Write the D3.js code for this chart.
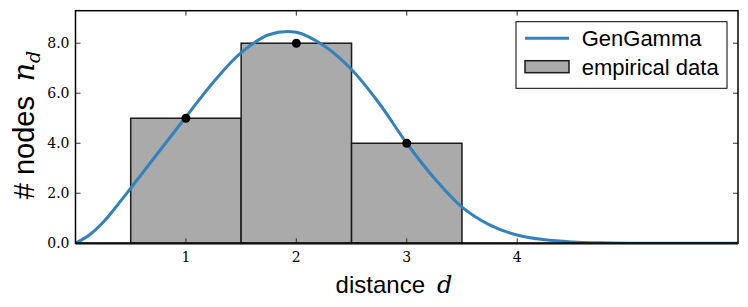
<!DOCTYPE html>
<html>
<head>
<meta charset="utf-8">
<script src="https://cdn.jsdelivr.net/npm/d3@7"></script>
<style>
  body { margin: 0; background: #fff; }
  .tick-label { font-family: "DejaVu Serif", serif; font-size: 14px; fill: #000; }
  .axis-title { font-family: "Liberation Sans", Arial, sans-serif; font-size: 24px; fill: #000; }
  .math { font-family: "DejaVu Serif", serif; font-style: italic; }
  .legend-text { font-family: "Liberation Sans", Arial, sans-serif; font-size: 22px; fill: #000; }
</style>
</head>
<body>
<svg id="chart" width="748" height="307"></svg>
<script>
// empirical histogram: distance d -> number of nodes
const distances = [1, 2, 3];
const nodeCounts = [5, 8, 4];

// GenGamma fit
const fitD = [0, 0.125, 0.25, 0.375, 0.5, 0.75, 1.0, 1.25, 1.5, 1.75, 2.0, 2.25, 2.5, 2.75, 3.0, 3.25, 3.5, 3.75, 4.0, 4.25, 4.5, 4.75, 5.0, 5.5, 6.0];
const fitN = [0, 0.33, 0.84, 1.5, 2.2, 3.63, 5.05, 6.45, 7.62, 8.34, 8.44, 7.9, 6.95, 5.6, 4.0, 2.6, 1.45, 0.74, 0.33, 0.14, 0.055, 0.02, 0.006, 0, 0];

const xTicks = [1, 2, 3, 4];
const yTicks = [0, 2, 4, 6, 8];
const legendItems = ['GenGamma', 'empirical data'];

const W = 748, H = 307;
const margin = {left: 75.5, right: 10, top: 10.7, bottom: 63.7};

const svg = d3.select('#chart');

const x = d3.scaleLinear().domain([0, 6]).range([margin.left, W - margin.right]);
const y = d3.scaleLinear().domain([0, 9.3]).range([H - margin.bottom, margin.top]);

const lineBlue = '#3182bd';

svg.append('defs').append('clipPath').attr('id', 'plotClip')
    .append('rect')
    .attr('x', x(0)).attr('y', y(9.3))
    .attr('width', x(6) - x(0)).attr('height', y(0) - y(9.3));

// histogram bars
svg.append('g')
    .selectAll('rect')
    .data(distances)
    .enter().append('rect')
    .attr('x', d => x(d - 0.5))
    .attr('y', (d, i) => y(nodeCounts[i]))
    .attr('width', d => x(d + 0.5) - x(d - 0.5))
    .attr('height', (d, i) => y(0) - y(nodeCounts[i]))
    .attr('fill', '#aaaaaa')
    .attr('stroke', '#1a1a1a')
    .attr('stroke-width', 1.5);

// fitted curve
const line = d3.line()
    .x((d, i) => x(fitD[i]))
    .y(d => y(d))
    .curve(d3.curveCatmullRom.alpha(0.5));

svg.append('path')
    .datum(fitN)
    .attr('clip-path', 'url(#plotClip)')
    .attr('d', line)
    .attr('fill', 'none')
    .attr('stroke', lineBlue)
    .attr('stroke-width', 3);

// data points
svg.append('g')
    .selectAll('circle')
    .data(distances)
    .enter().append('circle')
    .attr('cx', d => x(d))
    .attr('cy', (d, i) => y(nodeCounts[i]))
    .attr('r', 4.5)
    .attr('fill', '#000');

// ticks (inward, on all four sides)
const tickLen = 5;
const ticks = svg.append('g').attr('stroke', '#333').attr('stroke-width', 1);
xTicks.forEach(t => {
    ticks.append('line').attr('x1', x(t)).attr('x2', x(t)).attr('y1', y(0)).attr('y2', y(0) - tickLen);
    ticks.append('line').attr('x1', x(t)).attr('x2', x(t)).attr('y1', y(9.3)).attr('y2', y(9.3) + tickLen);
});
yTicks.forEach(t => {
    ticks.append('line').attr('x1', x(0)).attr('x2', x(0) + tickLen).attr('y1', y(t)).attr('y2', y(t));
    ticks.append('line').attr('x1', x(6)).attr('x2', x(6) - tickLen).attr('y1', y(t)).attr('y2', y(t));
});

// frame
svg.append('rect')
    .attr('x', x(0)).attr('y', y(9.3))
    .attr('width', x(6) - x(0)).attr('height', y(0) - y(9.3))
    .attr('fill', 'none')
    .attr('stroke', '#000')
    .attr('stroke-width', 1.5);
svg.append('line')
    .attr('x1', x(0)).attr('x2', x(6)).attr('y1', y(0)).attr('y2', y(0))
    .attr('stroke', '#111').attr('stroke-width', 2.2);

// tick labels
svg.append('g').selectAll('text')
    .data(xTicks)
    .enter().append('text')
    .attr('class', 'tick-label')
    .attr('x', d => x(d))
    .attr('y', y(0) + 19)
    .attr('text-anchor', 'middle')
    .text(d => d);

svg.append('g').selectAll('text')
    .data(yTicks)
    .enter().append('text')
    .attr('class', 'tick-label')
    .attr('x', x(0) - 6)
    .attr('y', d => y(d))
    .attr('dy', '0.36em')
    .attr('text-anchor', 'end')
    .text(d => d.toFixed(1));

// axis titles
const xTitle = svg.append('text')
    .attr('class', 'axis-title')
    .attr('x', 394)
    .attr('y', 293)
    .attr('text-anchor', 'middle');
xTitle.append('tspan').text('distance\u2002');
xTitle.append('tspan').attr('class', 'math').text('d');

const yTitle = svg.append('text')
    .attr('class', 'axis-title')
    .style('font-size', '29px')
    .attr('transform', `translate(34,${(y(0) + y(9.3)) / 2 - 2}) rotate(-90)`)
    .attr('text-anchor', 'middle');
yTitle.append('tspan').text('# nodes\u2002');
yTitle.append('tspan').attr('class', 'math').text('n');
yTitle.append('tspan').attr('class', 'math').style('font-size', '19px').attr('dy', 6).text('d');

// legend
const lg = svg.append('g').attr('transform', 'translate(516,21.7)');
lg.append('rect')
    .attr('width', 211).attr('height', 66.6)
    .attr('fill', '#fff').attr('stroke', '#000').attr('stroke-width', 1);
lg.append('line')
    .attr('x1', 9).attr('x2', 53).attr('y1', 16.6).attr('y2', 16.6)
    .attr('stroke', lineBlue).attr('stroke-width', 3);
lg.append('rect')
    .attr('x', 9).attr('y', 39).attr('width', 44).attr('height', 12)
    .attr('fill', '#aaaaaa').attr('stroke', '#1a1a1a').attr('stroke-width', 1.5);
lg.selectAll('text.legend-text')
    .data(legendItems)
    .enter().append('text')
    .attr('class', 'legend-text')
    .attr('x', 65.7)
    .attr('y', (d, i) => 16.6 + i * 28.4)
    .attr('dy', '0.36em')
    .text(d => d);
</script>
</body>
</html>
